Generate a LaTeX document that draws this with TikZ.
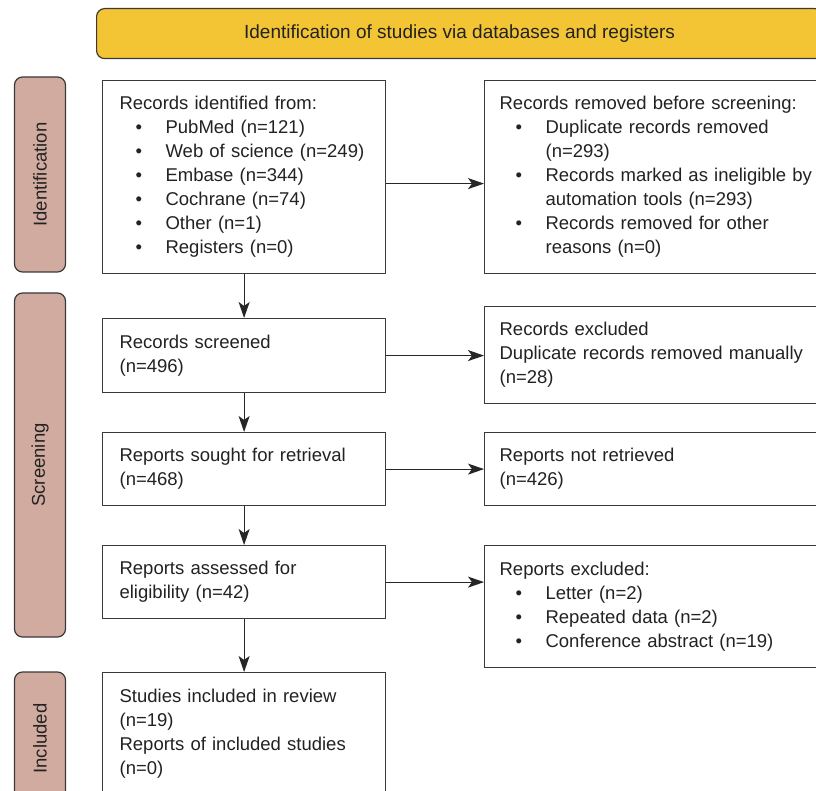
\documentclass[tikz,border=0pt]{standalone}
\usepackage{fontspec}
\setmainfont{Liberation Sans}
\usetikzlibrary{arrows.meta}
\definecolor{bannerfill}{HTML}{F3C433}
\definecolor{phasefill}{HTML}{D1AB9F}
\definecolor{edgecol}{HTML}{3A3A3A}
\definecolor{txtcol}{HTML}{222222}
\newcommand{\pbul}{\hspace*{16pt}\makebox[30pt][l]{\textbullet}}
\newcommand{\pind}{\hspace*{46pt}}
\newcommand{\flowfont}{\fontsize{18.5}{24}\selectfont\hyphenpenalty=10000\relax\exhyphenpenalty=10000\relax}
\begin{document}
\begin{tikzpicture}[x=1pt,y=-1pt,
  font=\flowfont,
  flowbox/.style={draw=edgecol, line width=1.2pt, rectangle, align=left,
    anchor=north west, text=txtcol, inner ysep=0pt},
  leftbox/.style={flowbox, text width=249pt, inner xsep=17pt},
  rightbox/.style={flowbox, text width=330pt, inner xsep=15pt},
  phasebox/.style={draw=edgecol, line width=1.2pt, fill=phasefill, rounded corners=8pt,
    rotate=90, minimum height=51pt, text=txtcol, inner sep=0pt},
  arr/.style={draw=black!85, line width=1.1pt, -{Stealth[length=16pt,width=11pt,inset=4pt]}}]
\useasboundingbox (0,0) rectangle (816,791);
\clip (0,0) rectangle (816,791);
\fill[white] (0,0) rectangle (816,791);

% banner
\node[draw=edgecol, line width=1.2pt, fill=bannerfill, rounded corners=8pt,
  minimum width=726pt, minimum height=50pt, inner sep=0pt, text=txtcol,
  font=\fontsize{19}{24}\selectfont,
  anchor=north west] (banner) at (96,8) {Identification of studies via databases and registers};

% phase labels
\node[phasebox, minimum width=195pt] (p1) at (40,174.5) {Identification};
\node[phasebox, minimum width=344pt] (p2) at (40,465) {Screening};
\node[phasebox, minimum width=133pt] (p3) at (40,738.5) {Included};

% left column
\node[leftbox, minimum height=193pt] (b1) at (102,80) {Records identified from:\\
\pbul PubMed (n=121)\\
\pbul Web of science (n=249)\\
\pbul Embase (n=344)\\
\pbul Cochrane (n=74)\\
\pbul Other (n=1)\\
\pbul Registers (n=0)};
\node[leftbox, minimum height=74pt] (b2) at (102,318) {Records screened\\(n=496)};
\node[leftbox, minimum height=73pt] (b3) at (102,432) {Reports sought for retrieval\\(n=468)};
\node[leftbox, minimum height=73pt] (b4) at (102,545) {Reports assessed for\\eligibility (n=42)};
\node[leftbox, minimum height=123pt] (b5) at (102,672) {Studies included in review\\(n=19)\\Reports of included studies\\(n=0)};

% right column
\node[rightbox, minimum height=193pt] (r1) at (484,80) {Records removed before screening:\\
\pbul Duplicate records removed\\
\pind (n=293)\\
\pbul Records marked as ineligible by\\
\pind automation tools (n=293)\\
\pbul Records removed for other\\
\pind reasons (n=0)};
\node[rightbox, minimum height=97pt] (r2) at (484,306) {Records excluded\\Duplicate records removed manually\\(n=28)};
\node[rightbox, minimum height=73pt] (r3) at (484,432) {Reports not retrieved\\(n=426)};
\node[rightbox, minimum height=122pt] (r4) at (484,545) {Reports excluded:\\
\pbul Letter (n=2)\\
\pbul Repeated data (n=2)\\
\pbul Conference abstract (n=19)};

% connectors
\draw[arr] (b1.south) -- (b2.north);
\draw[arr] (b2.south) -- (b3.north);
\draw[arr] (b3.south) -- (b4.north);
\draw[arr] (b4.south) -- (b5.north);
\draw[arr] ([yshift=-6.5pt]b1.east) -- ([yshift=-6.5pt]b1.east -| r1.west);
\draw[arr] (b2.east) -- (b2.east -| r2.west);
\draw[arr] (b3.east) -- (b3.east -| r3.west);
\draw[arr] (b4.east) -- (b4.east -| r4.west);
\end{tikzpicture}
\end{document}
